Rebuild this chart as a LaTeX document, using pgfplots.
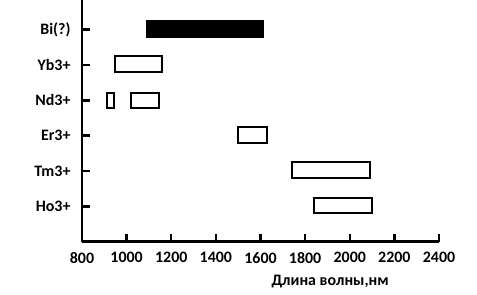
\documentclass[border=0pt]{standalone}
\usepackage{pgfplots}
\pgfplotsset{compat=1.18}
\usepackage{fontspec}
\setmainfont{Carlito}
\pgfplotsset{
  every non boxed x axis/.append style={x axis line style={-, line width=2.6bp, black}, xtick align=inside},
  every non boxed y axis/.append style={y axis line style={-, line width=2.6bp, black}, ytick align=inside},
}
\begin{document}
\begin{tikzpicture}
\path[use as bounding box] (-82bp,-53.3bp) rectangle (395bp,241.7bp);
\begin{axis}[
  scale only axis, width=357bp, height=241.7bp,
  xmin=800, xmax=2400, ymin=0, ymax=6.84,
  axis x line=bottom, axis y line=left,
  x axis line style={-, line width=2.6bp, black},
  y axis line style={-, line width=2.6bp, black},
  xtick={800,1000,...,2400},
  ytick={1,...,6},
  yticklabels={Ho3+,Tm3+,Er3+,Nd3+,Yb3+,Bi(?)},
  xtick align=inside, ytick align=inside,
  major tick length=8bp,
  every tick/.style={draw=black, line width=2.4bp},
  xtick style={draw=black, line width=2.4bp},
  ytick style={draw=black, line width=2.4bp},
  ticklabel style={font=\fontsize{16}{18}\selectfont\bfseries},
  yticklabel style={xshift=-8bp},
  xticklabel style={yshift=-7bp},
  /pgf/number format/assume math mode=true,
  /pgf/number format/1000 sep={},
  xlabel={Длина волны,нм},
  xlabel style={font=\fontsize{16}{18}\selectfont\bfseries, at={(rel axis cs:0.695,0)}, anchor=center, yshift=-40bp},
  clip=false,
]
\addplot[draw=black, line width=2bp, fill=black] coordinates {(1090,5.78) (1610,5.78) (1610,6.24) (1090,6.24)} -- cycle;
\addplot[draw=black, line width=2bp, fill=white] coordinates {(950,4.80) (1160,4.80) (1160,5.25) (950,5.25)} -- cycle;
\addplot[draw=black, line width=2bp, fill=white] coordinates {(910,3.77) (945,3.77) (945,4.22) (910,4.22)} -- cycle;
\addplot[draw=black, line width=2bp, fill=white] coordinates {(1020,3.77) (1145,3.77) (1145,4.22) (1020,4.22)} -- cycle;
\addplot[draw=black, line width=2bp, fill=white] coordinates {(1500,2.80) (1630,2.80) (1630,3.24) (1500,3.24)} -- cycle;
\addplot[draw=black, line width=2bp, fill=white] coordinates {(1740,1.80) (2090,1.80) (2090,2.25) (1740,2.25)} -- cycle;
\addplot[draw=black, line width=2bp, fill=white] coordinates {(1840,0.80) (2100,0.80) (2100,1.24) (1840,1.24)} -- cycle;
\end{axis}
\end{tikzpicture}
\end{document}
